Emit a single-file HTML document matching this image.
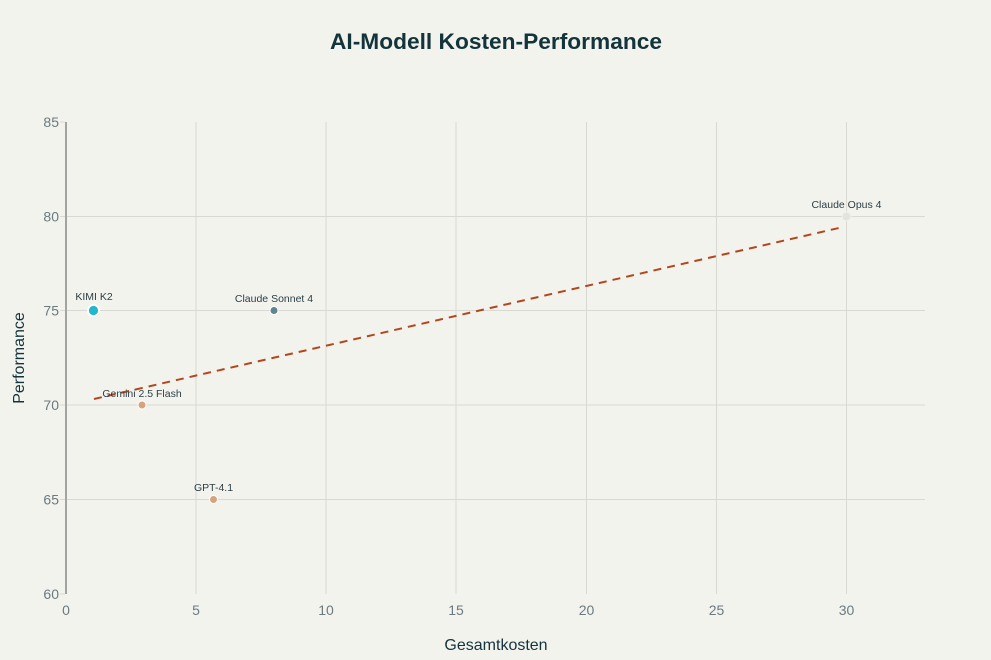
<!DOCTYPE html>
<html><head><meta charset="utf-8"><style>
html,body{margin:0;padding:0;background:#f3f3ee;}
svg{display:block;}
text{font-family:"Liberation Sans",sans-serif;}
</style></head><body>
<svg width="991" height="660" viewBox="0 0 991 660" xmlns="http://www.w3.org/2000/svg">
<rect width="991" height="660" fill="#f3f3ee"/>
<text x="496" y="49" text-anchor="middle" font-size="22" font-weight="bold" fill="#13343b" textLength="332" lengthAdjust="spacingAndGlyphs">AI-Modell Kosten-Performance</text>
<g stroke="#d9d9d4" stroke-width="1">
<line x1="196" y1="122" x2="196" y2="594"/>
<line x1="326" y1="122" x2="326" y2="594"/>
<line x1="456" y1="122" x2="456" y2="594"/>
<line x1="586.5" y1="122" x2="586.5" y2="594"/>
<line x1="716.5" y1="122" x2="716.5" y2="594"/>
<line x1="846.5" y1="122" x2="846.5" y2="594"/>
<line x1="66" y1="216.5" x2="925" y2="216.5"/>
<line x1="66" y1="310.5" x2="925" y2="310.5"/>
<line x1="66" y1="405" x2="925" y2="405"/>
<line x1="66" y1="499.5" x2="925" y2="499.5"/>
</g>
<g stroke="#d9d9d4" stroke-width="1">
<line x1="60" y1="122" x2="65" y2="122"/>
<line x1="60" y1="216.5" x2="65" y2="216.5"/>
<line x1="60" y1="310.5" x2="65" y2="310.5"/>
<line x1="60" y1="405" x2="65" y2="405"/>
<line x1="60" y1="499.5" x2="65" y2="499.5"/>
<line x1="60" y1="594" x2="65" y2="594"/>
</g>
<line x1="66" y1="122" x2="66" y2="594" stroke="#a3a3a3" stroke-width="2"/>
<g font-size="14" fill="#6b7a80" text-anchor="end">
<text x="59" y="127">85</text>
<text x="59" y="221.5">80</text>
<text x="59" y="315.5">75</text>
<text x="59" y="410">70</text>
<text x="59" y="504.5">65</text>
<text x="59" y="599">60</text>
</g>
<g font-size="14" fill="#6b7a80" text-anchor="middle">
<text x="66" y="615">0</text>
<text x="196" y="615">5</text>
<text x="326" y="615">10</text>
<text x="456" y="615">15</text>
<text x="586.5" y="615">20</text>
<text x="716.5" y="615">25</text>
<text x="846.5" y="615">30</text>
</g>
<text x="496" y="650" text-anchor="middle" font-size="16" fill="#13343b">Gesamtkosten</text>
<text transform="translate(24,358) rotate(-90)" text-anchor="middle" font-size="16" fill="#13343b">Performance</text>
<line x1="94" y1="399" x2="841" y2="227.5" stroke="#b4461f" stroke-width="2" stroke-dasharray="8,6"/>
<circle cx="846.5" cy="216.5" r="4.5" fill="#e3e3df" stroke="#f3f3ee" stroke-width="1"/>
<circle cx="274" cy="310.5" r="4" fill="#5d878f" stroke="#ffffff" stroke-width="1"/>
<circle cx="142" cy="405" r="4" fill="#d7a37f" stroke="#ffffff" stroke-width="1"/>
<circle cx="213.5" cy="499.5" r="4" fill="#d7a37f" stroke="#ffffff" stroke-width="1"/>
<circle cx="93.5" cy="310.5" r="5.5" fill="#1fb8cd" stroke="#ffffff" stroke-width="1.8"/>
<g font-size="10.5" fill="#2b3f45" text-anchor="middle">
<text x="94" y="300">KIMI K2</text>
<text x="274" y="302">Claude Sonnet 4</text>
<text x="142" y="397">Gemini 2.5 Flash</text>
<text x="213.5" y="491">GPT-4.1</text>
<text x="846.5" y="208">Claude Opus 4</text>
</g>
</svg>
</body></html>
